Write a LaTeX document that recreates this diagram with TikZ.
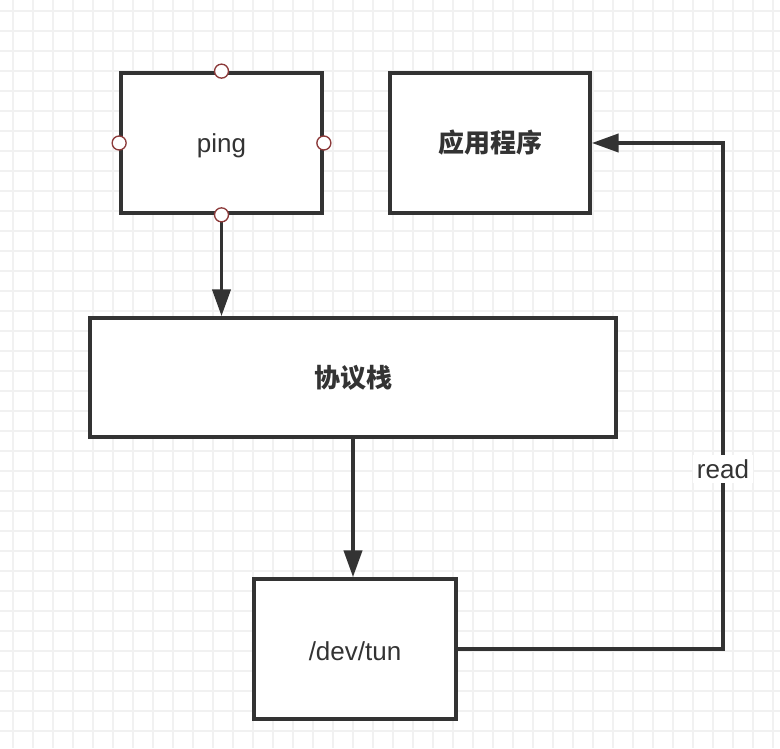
\documentclass[tikz,border=0pt]{standalone}
\usepackage{fontspec}
\setmainfont{Liberation Sans}
\newfontfamily\cjk{Noto Sans CJK SC}
\usetikzlibrary{arrows.meta}
\definecolor{ink}{HTML}{333333}
\definecolor{gridc}{HTML}{F1F1F1}
\definecolor{portc}{HTML}{8C3A3A}
\tikzset{
  gridline/.style={draw=gridc, line width=1.1pt},
  box/.style={draw=ink, line width=2.8pt, fill=white, rectangle, inner sep=0pt,
    text=ink, font=\fontsize{19.5pt}{23pt}\selectfont},
  cjkbox/.style={box, font=\fontsize{19.5pt}{23pt}\selectfont\cjk\bfseries},
  port/.style={circle, draw=portc, fill=white, line width=1pt, minimum size=10.5pt, inner sep=0pt},
  link/.style={draw=ink, line width=2.8pt},
  arr/.style={link, -{Triangle[length=20pt,width=13.5pt]}},
  edgelabel/.style={fill=white, text=ink, inner sep=3pt,
    font=\fontsize{19.5pt}{23pt}\selectfont}
}
\begin{document}
\begin{tikzpicture}[x=0.75pt, y=-0.75pt]
  % canvas and background grid
  \useasboundingbox (0,0) rectangle (780,748);
  \fill[white] (0,0) rectangle (780,748);
  \foreach \gx in {13,33,...,773} \draw[gridline] (\gx,0) -- (\gx,748);
  \foreach \gy in {11,31,...,741} \draw[gridline] (0,\gy) -- (780,\gy);

  % boxes
  \node[box, minimum width=150.75pt, minimum height=105pt,
        text height=15pt, text depth=0pt] (ping) at (221.5,143) {ping};
  \node[cjkbox, minimum width=150pt, minimum height=105pt] (app) at (490,143) {应用程序};
  \node[cjkbox, minimum width=394.5pt, minimum height=89.25pt] (stack) at (353,377.5) {协议栈};
  \node[box, minimum width=151.5pt, minimum height=105pt,
        text height=17.5pt, text depth=0pt] (tun) at (355,649) {/dev/tun};

  % connectors
  \draw[arr] (ping.south) -- (ping.south |- stack.north);
  \draw[arr] (stack.south) -- (stack.south |- tun.north);
  \coordinate (turnlow) at (723,649);
  \coordinate (turnhigh) at (723,143);
  \draw[arr] (tun.east) -- (turnlow) -- (turnhigh) -- (app.east);
  \node[edgelabel] (readlbl) at (723,469) {read};

  % connection ports on the ping box
  \node[port] (pn) at (ping.north) {};
  \node[port] (ps) at (ping.south) {};
  \node[port] (pw) at (ping.west) {};
  \node[port] (pe) at (ping.east) {};
\end{tikzpicture}
\end{document}
